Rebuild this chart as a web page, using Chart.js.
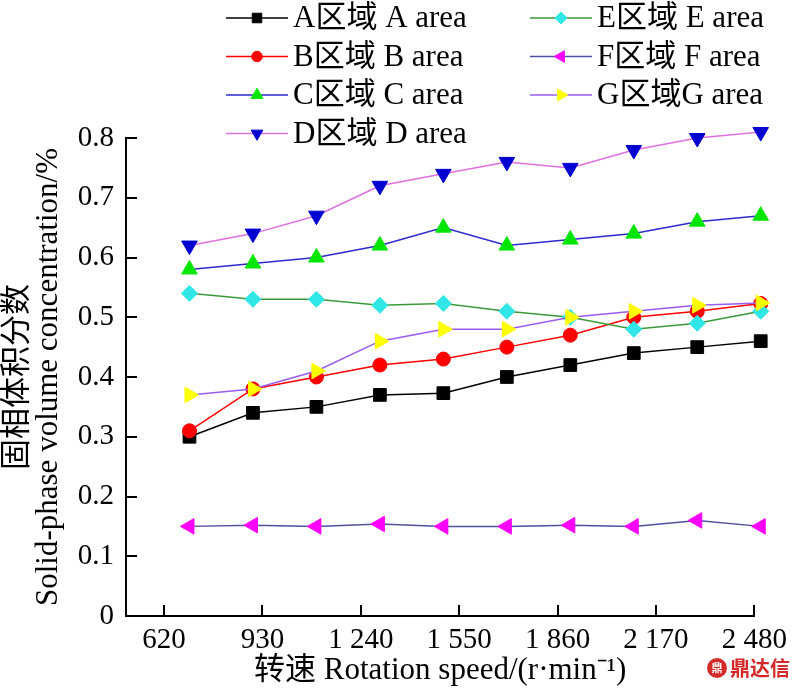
<!DOCTYPE html>
<html>
<head>
<meta charset="utf-8">
<script src="https://cdn.jsdelivr.net/npm/chart.js@4/dist/chart.umd.min.js"></script>
<style>
  html, body { margin: 0; padding: 0; background: #fff; }
  #wrap { width: 794px; height: 689px; }
</style>
</head>
<body>
<div id="wrap"><canvas id="chart" width="794" height="689"></canvas></div>
<script>
  // ── data ────────────────────────────────────────────────────────────────────
  const SPEEDS = [700, 900, 1100, 1300, 1500, 1700, 1900, 2100, 2300, 2500];

  const AREA_A = [0.30, 0.34, 0.35, 0.37, 0.373, 0.40, 0.42, 0.44, 0.45, 0.46];
  const AREA_B = [0.31, 0.38, 0.40, 0.42, 0.43, 0.45, 0.47, 0.50, 0.51, 0.523];
  const AREA_C = [0.58, 0.59, 0.60, 0.62, 0.65, 0.62, 0.63, 0.64, 0.66, 0.67];
  const AREA_D = [0.62, 0.64, 0.67, 0.72, 0.74, 0.76, 0.75, 0.78, 0.80, 0.81];
  const AREA_E = [0.54, 0.53, 0.53, 0.52, 0.523, 0.51, 0.50, 0.48, 0.49, 0.51];
  const AREA_F = [0.15, 0.152, 0.15, 0.154, 0.15, 0.15, 0.152, 0.15, 0.16, 0.15];
  const AREA_G = [0.37, 0.38, 0.41, 0.46, 0.48, 0.48, 0.50, 0.51, 0.52, 0.524];

  const SERIES_LABELS = [
    'A区域 A area', 'B区域 B area', 'C区域 C area', 'D区域 D area',
    'E区域 E area', 'F区域 F area', 'G区域G area',
  ];

  const X_TICKS = [620, 930, 1240, 1550, 1860, 2170, 2480];
  const X_TICK_LABELS = ['620', '930', '1 240', '1 550', '1 860', '2 170', '2 480'];

  const X_TITLE = '转速 Rotation speed/(r·min⁻¹)';
  const Y_TITLE = ['固相体积分数', 'Solid-phase volume concentration/%'];

  // ── styles ──────────────────────────────────────────────────────────────────
  const SERIF = "'Liberation Serif', 'Noto Sans CJK SC', serif";

  const STYLES = [
    { line: '#000000', fill: '#000000', shape: 'rect',     rot: 0,   r: 9 },
    { line: '#ff0000', fill: '#ff0000', shape: 'circle',   rot: 0,   r: 7 },
    { line: '#2b2bd0', fill: '#00e600', shape: 'triangle', rot: 0,   r: 9 },
    { line: '#e070e0', fill: '#0000d0', shape: 'triangle', rot: 180, r: 9 },
    { line: '#3a9a3a', fill: '#30e6e6', shape: 'rectRot',  rot: 0,   r: 8 },
    { line: '#5050a0', fill: '#ff00ff', shape: 'triangle', rot: 270, r: 9 },
    { line: '#9a5cf0', fill: '#ffff00', shape: 'triangle', rot: 90,  r: 9 },
  ];

  const SERIES = [AREA_A, AREA_B, AREA_C, AREA_D, AREA_E, AREA_F, AREA_G];

  const datasets = SERIES.map(function (vals, i) {
    const s = STYLES[i];
    return {
      label: SERIES_LABELS[i],
      data: vals.map(function (v, k) { return { x: SPEEDS[k], y: v }; }),
      borderColor: s.line,
      borderWidth: 1.5,
      backgroundColor: s.fill,
      pointStyle: s.shape,
      pointRotation: s.rot,
      pointRadius: s.r,
      pointBackgroundColor: s.fill,
      pointBorderColor: s.fill,
      pointBorderWidth: 1,
      tension: 0,
      fill: false,
      clip: false,
      order: SERIES.length - i,   // later series on top
    };
  });

  // ── legend in two columns ───────────────────────────────────────────────────
  const LEGEND_X = [226, 530];
  const LEGEND_Y0 = 18;
  const LEGEND_DY = 38.5;

  const legendPlugin = {
    id: 'twoColLegend',
    afterDraw: function (chart) {
      const ctx = chart.ctx;
      chart.data.datasets.forEach(function (ds, i) {
        const col = i < 4 ? 0 : 1;
        const row = i < 4 ? i : i - 4;
        const x0 = LEGEND_X[col];
        const y = LEGEND_Y0 + row * LEGEND_DY;
        ctx.save();
        ctx.strokeStyle = ds.borderColor;
        ctx.lineWidth = 1.5;
        ctx.beginPath();
        ctx.moveTo(x0, y);
        ctx.lineTo(x0 + 62, y);
        ctx.stroke();
        ctx.fillStyle = ds.pointBackgroundColor;
        ctx.strokeStyle = ds.pointBorderColor;
        ctx.lineWidth = 1;
        Chart.helpers.drawPoint(ctx, {
          pointStyle: ds.pointStyle, rotation: ds.pointRotation,
          radius: ds.pointRadius * 0.75, borderWidth: 1,
        }, x0 + 31, y);
        ctx.fillStyle = '#000';
        ctx.font = '31px ' + SERIF;
        ctx.textAlign = 'left';
        ctx.textBaseline = 'middle';
        ctx.fillText(ds.label, x0 + 67, y + 1);
        ctx.restore();
      });
    },
  };

  // ── inward tick marks ───────────────────────────────────────────────────────
  const TICK_LEN = 11;
  const innerTicks = {
    id: 'innerTicks',
    afterDraw: function (chart) {
      const ctx = chart.ctx;
      const area = chart.chartArea;
      const sx = chart.scales.x, sy = chart.scales.y;
      ctx.save();
      ctx.strokeStyle = '#000';
      ctx.lineWidth = 2;
      ctx.beginPath();
      sx.ticks.forEach(function (t) {
        const px = Math.round(sx.getPixelForValue(t.value));
        ctx.moveTo(px, area.bottom);
        ctx.lineTo(px, area.bottom - TICK_LEN);
      });
      sy.ticks.forEach(function (t) {
        const py = Math.round(sy.getPixelForValue(t.value));
        ctx.moveTo(area.left, py);
        ctx.lineTo(area.left + TICK_LEN, py);
      });
      ctx.stroke();
      ctx.restore();
    },
  };

  // ── watermark ───────────────────────────────────────────────────────────────
  const watermark = {
    id: 'watermark',
    afterDraw: function (chart) {
      const ctx = chart.ctx;
      ctx.save();
      ctx.fillStyle = '#d42a2a';
      ctx.beginPath();
      ctx.arc(717, 668, 10, 0, Math.PI * 2);
      ctx.fill();
      ctx.fillStyle = '#fff';
      ctx.font = 'bold 11px "Noto Sans CJK SC"';
      ctx.textAlign = 'center';
      ctx.textBaseline = 'middle';
      ctx.fillText('鼎', 717, 668);
      ctx.fillStyle = '#d42a2a';
      ctx.font = 'bold 20px "Noto Sans CJK SC"';
      ctx.textAlign = 'left';
      ctx.fillText('鼎达信', 730, 668);
      ctx.restore();
    },
  };

  // ── chart ───────────────────────────────────────────────────────────────────
  new Chart(document.getElementById('chart').getContext('2d'), {
    type: 'line',
    data: { datasets: datasets },
    plugins: [legendPlugin, innerTicks, watermark],
    options: {
      responsive: false,
      animation: false,
      layout: { padding: { top: 138, right: 39, left: 0, bottom: 0 } },
      plugins: { legend: { display: false }, tooltip: { enabled: false } },
      scales: {
        x: {
          type: 'linear',
          min: 500,
          max: 2480,
          afterBuildTicks: function (scale) {
            scale.ticks = X_TICKS.map(function (v) { return { value: v }; });
          },
          afterFit: function (scale) { scale.height = 73; },
          border: { display: true, color: '#000', width: 2 },
          grid: { drawOnChartArea: false, drawTicks: false },
          ticks: {
            color: '#000',
            font: { family: SERIF, size: 29 },
            padding: 7,
            maxRotation: 0,
            autoSkip: false,
            callback: function (value) {
              const k = X_TICKS.indexOf(value);
              return k >= 0 ? X_TICK_LABELS[k] : '';
            },
          },
          title: {
            display: true,
            text: X_TITLE,
            color: '#000',
            font: { family: SERIF, size: 31, lineHeight: 1.0 },
            padding: { top: 0, bottom: 3 },
          },
        },
        y: {
          min: 0,
          max: 0.8,
          afterFit: function (scale) { scale.width = 126; },
          border: { display: true, color: '#000', width: 2 },
          grid: { drawOnChartArea: false, drawTicks: false },
          ticks: {
            stepSize: 0.1,
            color: '#000',
            font: { family: SERIF, size: 29 },
            padding: 12,
            callback: function (value) {
              return value === 0 ? '0' : value.toFixed(1);
            },
          },
          title: {
            display: true,
            text: Y_TITLE,
            color: '#000',
            font: { family: SERIF, size: 31, lineHeight: 1.0 },
            padding: { top: 2, bottom: 0 },
          },
        },
      },
    },
  });
</script>
</body>
</html>
